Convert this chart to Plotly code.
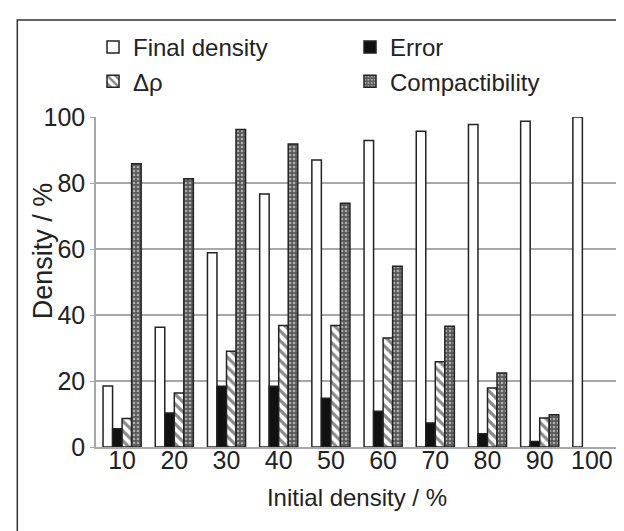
import plotly.graph_objects as go

categories = ["10", "20", "30", "40", "50", "60", "70", "80", "90", "100"]
final_density = [18.5, 36.3, 58.9, 76.7, 87.0, 92.9, 95.7, 97.7, 98.7, 100.0]
error = [5.5, 10.3, 18.4, 18.4, 14.8, 10.8, 7.3, 4.0, 1.7, None]
delta_rho = [8.6, 16.4, 29.0, 36.8, 36.8, 33.0, 25.8, 17.9, 8.8, None]
compactibility = [85.8, 81.3, 96.2, 91.8, 73.9, 54.8, 36.6, 22.4, 9.8, None]

y_ticks = [0, 20, 40, 60, 80, 100]

FONT = "Liberation Sans, Arial, sans-serif"
TXT = "#222222"
GRID = "#a8a8a8"
OUT = dict(color="#222222", width=1.5)

fig = go.Figure()
fig.add_trace(go.Bar(name="Final density", x=categories, y=final_density,
                     marker=dict(color="white", line=OUT)))
fig.add_trace(go.Bar(name="Error", x=categories, y=error,
                     marker=dict(color="#111111", line=OUT)))
fig.add_trace(go.Bar(name="Δρ", x=categories, y=delta_rho,
                     marker=dict(color="white", line=OUT,
                                 pattern=dict(shape="\\", fgcolor="#111111", bgcolor="white",
                                              size=7, solidity=0.45))))
fig.add_trace(go.Bar(name="Compactibility", x=categories, y=compactibility,
                     marker=dict(color="white", line=OUT,
                                 pattern=dict(shape=".", fgcolor="white", bgcolor="#5a5a5a",
                                              size=4, solidity=0.35))))

L, R, T, B = 88, 12, 109, 92
W, H = 624, 531
pw = W - L - R
ph = H - T - B

fig.update_layout(
    width=W, height=H,
    margin=dict(l=L, r=R, t=T, b=B),
    paper_bgcolor="white", plot_bgcolor="white",
    barmode="group", bargap=0.27, bargroupgap=0.0,
    font=dict(family=FONT, color=TXT, size=25),
    showlegend=True,
    legend=dict(orientation="h", x=(85 - L) / pw, xanchor="left",
                y=1 + (T - 17) / ph, yanchor="top",
                entrywidth=212, entrywidthmode="pixels",
                font=dict(size=24, family=FONT, color=TXT),
                bgcolor="rgba(0,0,0,0)", traceorder="normal",
                itemclick=False, tracegroupgap=0),
    xaxis=dict(showgrid=False, showline=True, linecolor=GRID, linewidth=1.5,
               ticks="", tickfont=dict(size=25), ticklabelstandoff=-10,
               title=dict(text="Initial density / %", font=dict(size=24), standoff=16)),
    yaxis=dict(range=[0, 100], tickvals=y_ticks, showgrid=True, gridcolor=GRID, gridwidth=1.5,
               showline=True, mirror=True, linecolor=GRID, linewidth=1.5,
               ticks="outside", ticklen=4, tickcolor=GRID, tickfont=dict(size=25),
               zeroline=False),
    annotations=[dict(text="Density / %", textangle=-90, xref="paper", yref="paper",
                      x=(35 - L) / pw, y=(H - B - 243) / ph, xanchor="center", yanchor="middle",
                      showarrow=False, font=dict(size=27, family=FONT, color=TXT))],
)

# outer frame (decorative border)
fig.add_shape(type="rect", xref="paper", yref="paper",
              x0=(9 - L) / pw, x1=(W + 20 - L) / pw,
              y0=-(B + 20) / ph, y1=1 + (T - 12) / ph,
              line=dict(color="#333333", width=1.5), fillcolor="rgba(0,0,0,0)", layer="below")

fig.write_html("out.html")
